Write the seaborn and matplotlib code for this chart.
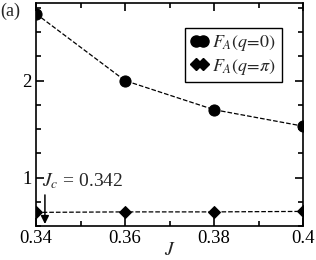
import numpy as np
import matplotlib
matplotlib.use("Agg")
import matplotlib.pyplot as plt
from matplotlib.lines import Line2D
from matplotlib.ticker import MultipleLocator
import seaborn as sns

# data
J = [0.34, 0.36, 0.38, 0.40]
FA_q0 = [2.69, 2.00, 1.70, 1.53]
FA_qpi = [0.64, 0.645, 0.645, 0.65]
J_c = 0.342
xticks = [0.34, 0.36, 0.38, 0.40]
xticklabels = ["0.34", "0.36", "0.38", "0.4"]
yticks = [1, 2]

sns.set_style("ticks")
plt.rcParams['font.family'] = ['Liberation Serif', 'DejaVu Serif']
plt.rcParams['mathtext.fontset'] = 'stix'
plt.rcParams['axes.linewidth'] = 1.2

fig = plt.figure(figsize=(3.16, 2.6), dpi=100)
ax = fig.add_axes([0.114, 0.131, 0.845, 0.857])

sns.lineplot(x=J, y=FA_q0, ax=ax, color='black', linestyle='--', linewidth=0.9,
             marker='o', markersize=8, markeredgecolor='black', legend=False)
sns.lineplot(x=J, y=FA_qpi, ax=ax, color='black', linestyle='--', linewidth=0.9,
             marker='D', markersize=6.5, markeredgecolor='black', legend=False)

ax.set_xlim(0.34, 0.40)
ax.set_ylim(0.5, 2.8)
ax.set_xticks(xticks)
ax.set_xticklabels(xticklabels)
ax.set_yticks(yticks)
ax.xaxis.set_minor_locator(MultipleLocator(0.01))
ax.yaxis.set_minor_locator(MultipleLocator(0.25))
ax.tick_params(which='both', direction='in', top=True, right=True,
               labelsize=13.5, width=1.2, color='black', labelcolor='black')
ax.tick_params(which='major', length=6, pad=3)
ax.tick_params(which='minor', length=3.5)
for s in ax.spines.values():
    s.set_color('black')

ax.set_xlabel('$J$', fontsize=14, labelpad=-4)
ax.set_ylabel('')

# critical point annotation
ax.annotate('', xy=(J_c, 0.52), xytext=(J_c, 0.82),
            arrowprops=dict(arrowstyle='-|>', color='black', lw=1.1,
                            mutation_scale=12, shrinkA=0, shrinkB=0))
ax.text(0.3414, 0.96, '$J_c$ = 0.342', fontsize=14, va='center', ha='left')

fig.text(0.0, 0.955, '(a)', fontsize=13, ha='left', va='center')

handles = [
    Line2D([], [], color='black', linestyle='none', marker='o', markersize=8),
    Line2D([], [], color='black', linestyle='none', marker='D', markersize=6.5),
]
labels = ['$F_A(q\\!=\\!0)$', '$F_A(q\\!=\\!\\pi)$']
leg = ax.legend(handles, labels, loc='upper right', bbox_to_anchor=(0.92, 0.89),
                numpoints=2, fancybox=False, frameon=True, fontsize=13,
                handlelength=1.0, handletextpad=0.2, borderpad=0.3,
                labelspacing=0.2, borderaxespad=0)
leg.get_frame().set_edgecolor('black')
leg.get_frame().set_linewidth(1.0)
leg.get_frame().set_alpha(1)

fig.savefig('out.png', dpi=100)
